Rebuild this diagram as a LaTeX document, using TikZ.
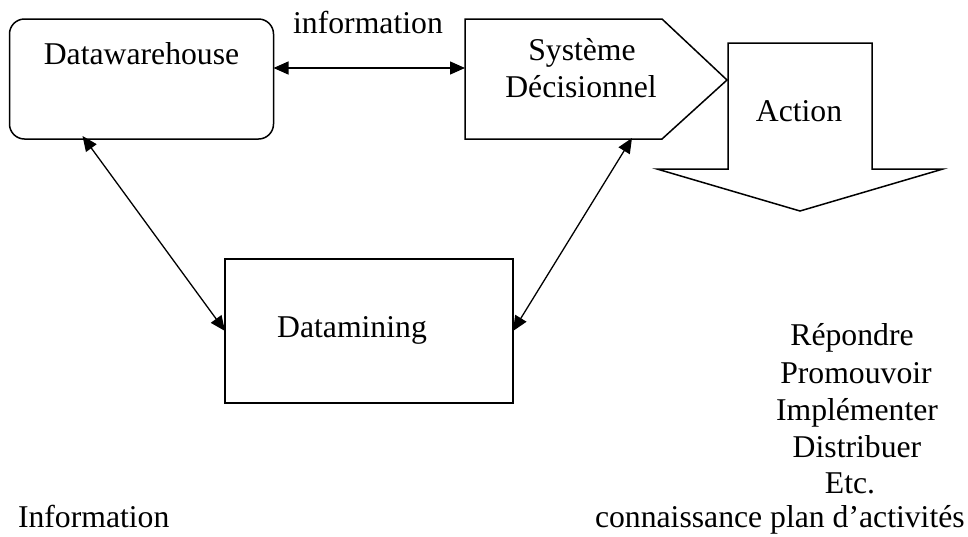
\documentclass[tikz,border=0pt]{standalone}
\usepackage{fontspec}
\setmainfont{Liberation Serif}
\usetikzlibrary{arrows.meta,calc}
\begin{document}
\begin{tikzpicture}[x=1pt,y=-1pt,
  box/.style={draw=black,line width=1.5pt,inner sep=0pt,outer sep=0pt},
  ghost/.style={inner sep=0pt,outer sep=0pt},
  lbl/.style={inner sep=0pt,outer sep=0pt,anchor=base,
    font=\fontsize{31.7}{36.5}\selectfont},
  tip/.tip={Triangle[length=15pt,width=13pt]},
  dbl/.style={line width=1.3pt,tip-tip}
]
\useasboundingbox (0,0) rectangle (968,536);

% Datawarehouse (rounded box)
\node[box,rounded corners=15pt,minimum width=264pt,minimum height=120pt] (dw) at (141.5,79) {};
\node[lbl] (dwt) at (141.5,64) {Datawarehouse};

% Système Décisionnel (pentagon pointing right)
\node[ghost,minimum width=197pt,minimum height=120pt] (sd) at (563.5,79) {};
\draw[line width=1.5pt,line join=miter]
  (sd.north west) -- (sd.north east) -- (727,80) -- (sd.south east) -- (sd.south west) -- cycle;
\node[lbl] (sdt1) at (582,60) {Système};
\node[lbl] (sdt2) at (581,97) {Décisionnel};

% Action (block arrow pointing down)
\node[ghost,minimum width=144pt,minimum height=126pt] (act) at (800,106) {};
\draw[line width=1.5pt,line join=miter]
  (act.north west) -- (act.north east) -- (act.south east) -- (943,169)
  -- (800,211) -- (657,169) -- (act.south west) -- cycle;
\node[lbl] (actt) at (799,121) {Action};

% Datamining
\node[box,minimum width=288pt,minimum height=144pt] (dm) at (369,331) {};
\node[lbl] (dmt) at (352,337) {Datamining};

% Connectors
\coordinate (infoY) at (0,68);
\draw[dbl] (dw.east |- infoY) -- (sd.west |- infoY);
\node[lbl] (info) at (368,33) {information};
\draw[dbl] ([xshift=73pt,yshift=3pt]dw.south west) -- (dm.west);
\draw[dbl] (dm.east) -- ([xshift=-30pt,yshift=1pt]sd.south east);

% Lists of actions
\node[lbl] (a1) at (852,345) {Répondre};
\node[lbl] (a2) at (856,383) {Promouvoir};
\node[lbl] (a3) at (857,420) {Implémenter};
\node[lbl] (a4) at (857,457) {Distribuer};
\node[lbl] (a5) at (850,493) {Etc.};

% Bottom captions
\node[lbl,anchor=base west] (inf) at (18,527) {Information};
\node[lbl,anchor=base west] (conn) at (595,527) {connaissance plan d’activités};
\end{tikzpicture}
\end{document}
